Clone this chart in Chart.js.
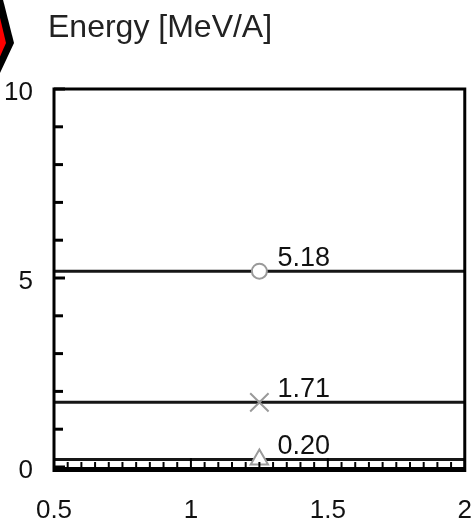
<!DOCTYPE html>
<html>
<head>
<meta charset="utf-8">
<style>
  html, body { margin: 0; padding: 0; background: #fff; overflow: hidden; }
  #wrap { width: 472px; height: 523px; }
  #c { display: block; }
</style>
<script src="https://cdn.jsdelivr.net/npm/chart.js@4.4.1/dist/chart.umd.min.js"></script>
</head>
<body>
<div id="wrap"><canvas id="c" width="472" height="523"></canvas></div>
<script>
// Axis ranges and tick values
const xRange = [0.5, 2];
const yRange = [0, 10];
const xTickValues = [0.5, 1, 1.5, 2];
const yTickValues = [0, 5, 10];

// Energy levels (MeV/A) and where their markers sit along x
const energies = [5.18, 1.71, 0.20];
const markerX = 1.25;

const titleText = 'Energy [MeV/A]';
const FONT = '"Liberation Sans", Arial, sans-serif';

const markerStyles = [
  { pointStyle: 'circle',   radius: 7.5 },
  { pointStyle: 'crossRot', radius: 13 },
  { pointStyle: 'triangle', radius: 10 }
];

// Marker datasets (drawn on top) and the horizontal level lines
const datasets = [];
energies.forEach((e, i) => {
  datasets.push({
    type: 'scatter',
    data: [{ x: markerX, y: e }],
    pointStyle: markerStyles[i].pointStyle,
    pointRadius: markerStyles[i].radius,
    borderColor: '#9a9a9a',
    backgroundColor: '#ffffff',
    pointBorderWidth: 2,
    order: 0,
    isMarker: true
  });
});
energies.forEach((e) => {
  datasets.push({
    type: 'line',
    data: [{ x: xRange[0], y: e }, { x: xRange[1], y: e }],
    borderColor: '#161616',
    borderWidth: 3,
    pointRadius: 0,
    fill: false,
    order: 1
  });
});

// Red badge partially visible in the upper-left corner, plus the title
const cornerBadge = {
  id: 'cornerBadge',
  beforeDraw(chart) {
    const ctx = chart.ctx;
    ctx.save();
    ctx.fillStyle = '#000';
    ctx.beginPath();
    [[-40, -20], [-2, -20], [14, 43], [-8, 90], [-40, 90]].forEach((p, i) =>
      i ? ctx.lineTo(p[0], p[1]) : ctx.moveTo(p[0], p[1]));
    ctx.closePath();
    ctx.fill();
    ctx.fillStyle = '#ff0000';
    ctx.beginPath();
    [[-40, -20], [-9, -20], [6, 43], [-15, 90], [-40, 90]].forEach((p, i) =>
      i ? ctx.lineTo(p[0], p[1]) : ctx.moveTo(p[0], p[1]));
    ctx.closePath();
    ctx.fill();

    ctx.fillStyle = '#222';
    ctx.font = '32px ' + FONT;
    ctx.textBaseline = 'alphabetic';
    ctx.textAlign = 'left';
    ctx.fillText(titleText, 48, 37);
    ctx.restore();
  }
};

// Frame with inward ticks
const frameTicks = {
  id: 'frameTicks',
  afterDatasetsDraw(chart) {
    const ctx = chart.ctx;
    const a = chart.chartArea;
    const xs = chart.scales.x, ys = chart.scales.y;
    ctx.save();
    ctx.strokeStyle = '#000';
    ctx.lineCap = 'butt';

    // y ticks every 1 unit, pointing right from the left axis
    ctx.lineWidth = 3;
    for (let v = yRange[0]; v <= yRange[1]; v += 1) {
      const y = ys.getPixelForValue(v);
      const len = (v % 5 === 0) ? 11 : 9;
      ctx.beginPath();
      ctx.moveTo(a.left, y);
      ctx.lineTo(a.left + len, y);
      ctx.stroke();
    }

    // x ticks every 0.05, pointing up from the bottom axis
    ctx.lineWidth = 2;
    for (let k = 0; k <= 30; k++) {
      const v = xRange[0] + k * 0.05;
      const x = xs.getPixelForValue(v);
      const len = (k % 10 === 0) ? 9 : 5;
      ctx.beginPath();
      ctx.moveTo(x, a.bottom);
      ctx.lineTo(x, a.bottom - len);
      ctx.stroke();
    }

    // frame
    ctx.lineWidth = 3;
    ctx.beginPath();
    ctx.moveTo(a.left, a.bottom);
    ctx.lineTo(a.left, a.top);
    ctx.lineTo(a.right, a.top);
    ctx.lineTo(a.right, a.bottom);
    ctx.stroke();
    ctx.lineWidth = 5;
    ctx.beginPath();
    ctx.moveTo(a.left - 1.5, a.bottom + 2.5);
    ctx.lineTo(a.right + 1.5, a.bottom + 2.5);
    ctx.stroke();
    ctx.restore();
  }
};

// Value labels next to each marker
const valueLabels = {
  id: 'valueLabels',
  afterDraw(chart) {
    const ctx = chart.ctx;
    ctx.save();
    ctx.fillStyle = '#111';
    ctx.font = '27px ' + FONT;
    ctx.textAlign = 'left';
    ctx.textBaseline = 'alphabetic';
    chart.data.datasets.forEach((ds, i) => {
      if (!ds.isMarker) return;
      const pt = chart.getDatasetMeta(i).data[0];
      ctx.fillText(ds.data[0].y.toFixed(2), pt.x + 18, pt.y - 5);
    });
    ctx.restore();
  }
};

new Chart(document.getElementById('c'), {
  data: { datasets },
  options: {
    responsive: false,
    animation: false,
    devicePixelRatio: 1,
    layout: { autoPadding: false, padding: { top: 89, right: 0, left: 0, bottom: 0 } },
    plugins: { legend: { display: false }, tooltip: { enabled: false }, title: { display: false } },
    scales: {
      x: {
        type: 'linear',
        min: xRange[0], max: xRange[1],
        afterFit(s) { s.height = 523 - 89 - 378; },
        afterBuildTicks(s) { s.ticks = xTickValues.map(v => ({ value: v })); },
        // invisible tick marks only push the labels down; the visible ticks are drawn inward
        grid: {
          display: true, drawOnChartArea: false, drawTicks: true,
          tickLength: 28, color: 'rgba(0,0,0,0)', tickColor: 'rgba(0,0,0,0)'
        },
        border: { display: false },
        ticks: {
          padding: 0,
          color: '#111',
          maxRotation: 0,
          autoSkip: false,
          callback: (v) => String(v),
          font: { family: FONT, size: 26 }
        }
      },
      y: {
        type: 'linear',
        min: yRange[0], max: yRange[1],
        afterFit(s) { s.width = 54; },
        afterBuildTicks(s) { s.ticks = yTickValues.map(v => ({ value: v })); },
        grid: { display: false, drawTicks: false },
        border: { display: false },
        ticks: {
          padding: 21,
          labelOffset: 4,
          color: '#111',
          callback: (v) => String(v),
          font: { family: FONT, size: 26 }
        }
      }
    }
  },
  plugins: [cornerBadge, frameTicks, valueLabels]
});
</script>
</body>
</html>
